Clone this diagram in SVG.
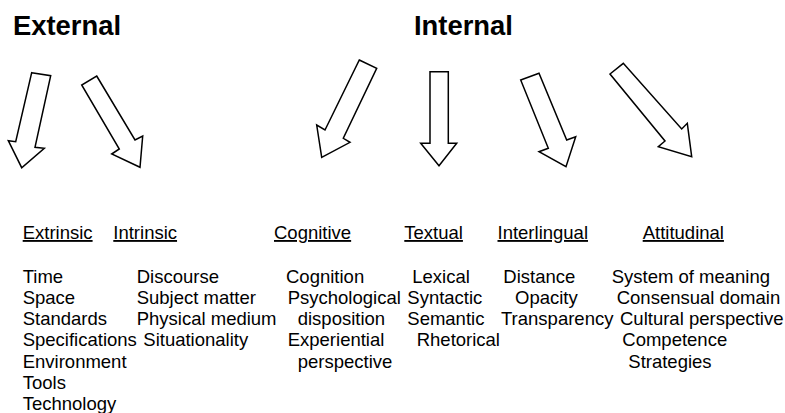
<svg xmlns="http://www.w3.org/2000/svg" width="785" height="413" viewBox="0 0 785 413">
<style>
.title{font-family:"Liberation Sans",Arial,sans-serif;font-weight:bold;font-size:27.4px;fill:#000}
.t{font-family:"Liberation Sans",Arial,sans-serif;font-size:18.5px;fill:#000}
.u{text-decoration:underline}
.arrow{fill:#fff;stroke:#000;stroke-width:1.5;stroke-linejoin:miter}
</style>
<rect width="785" height="413" fill="#fff"/>
<g id="title-external"><text class="title" x="13" y="35">External</text></g>
<g id="title-internal"><text class="title" x="414" y="35">Internal</text></g>
<g id="connectors">
<polygon class="arrow" points="31.7,72.7 50.7,75.7 35,147.3 44.3,148.3 21.7,167.7 8.3,140.7 15.7,141.7"/>
<polygon class="arrow" points="96.7,76 135,140 142.7,136 140,167.3 111.7,154 119.3,149 81.7,85"/>
<polygon class="arrow" points="359.3,60 376.7,68.3 343.3,138.3 350,142.3 321.7,157.3 316.7,125 325,130"/>
<polygon class="arrow" points="430,71.7 448.3,71.7 448.3,143.3 456.7,143.3 439,165.7 420.7,143.3 430,143.3"/>
<polygon class="arrow" points="520.7,80 539,73.3 566.7,140 575.7,136.7 566,166.7 539,151.7 548.3,148.3"/>
<polygon class="arrow" points="610,74 623.3,63.3 681.7,129 687.3,123.3 691.7,156.7 658.3,146.7 665,141"/>
</g>
<g id="extrinsic">
<text class="t u" x="22.7" y="239">Extrinsic</text>
<text class="t" x="22.7" y="282.5">Time</text>
<text class="t" x="22.7" y="303.8">Space</text>
<text class="t" x="22.7" y="325.1">Standards</text>
<text class="t" x="22.7" y="346.4">Specifications</text>
<text class="t" x="22.7" y="367.7">Environment</text>
<text class="t" x="22.7" y="389">Tools</text>
<text class="t" x="22.7" y="410.3">Technology</text>
</g>
<g id="intrinsic">
<text class="t u" x="113.3" y="239">Intrinsic</text>
<text class="t" x="136.7" y="282.5">Discourse</text>
<text class="t" x="136.7" y="303.8">Subject matter</text>
<text class="t" x="136.7" y="325.1">Physical medium</text>
<text class="t" x="143.3" y="346.4">Situationality</text>
</g>
<g id="cognitive">
<text class="t u" x="274" y="239">Cognitive</text>
<text class="t" x="286" y="282.5">Cognition</text>
<text class="t" x="287.7" y="303.8">Psychological</text>
<text class="t" x="297.7" y="325.1">disposition</text>
<text class="t" x="287.7" y="346.4">Experiential</text>
<text class="t" x="297.7" y="367.7">perspective</text>
</g>
<g id="textual">
<text class="t u" x="404.3" y="239">Textual</text>
<text class="t" x="412.3" y="282.5">Lexical</text>
<text class="t" x="407.3" y="303.8">Syntactic</text>
<text class="t" x="407.3" y="325.1">Semantic</text>
<text class="t" x="416.7" y="346.4">Rhetorical</text>
</g>
<g id="interlingual">
<text class="t u" x="497.5" y="239">Interlingual</text>
<text class="t" x="503.3" y="282.5">Distance</text>
<text class="t" x="515" y="303.8">Opacity</text>
<text class="t" x="501" y="325.1">Transparency</text>
</g>
<g id="attitudinal">
<text class="t u" x="642.7" y="239">Attitudinal</text>
<text class="t" x="611.7" y="282.5">System of meaning</text>
<text class="t" x="616.7" y="303.8">Consensual domain</text>
<text class="t" x="620" y="325.1">Cultural perspective</text>
<text class="t" x="622.3" y="346.4">Competence</text>
<text class="t" x="628.3" y="367.7">Strategies</text>
</g>
</svg>
